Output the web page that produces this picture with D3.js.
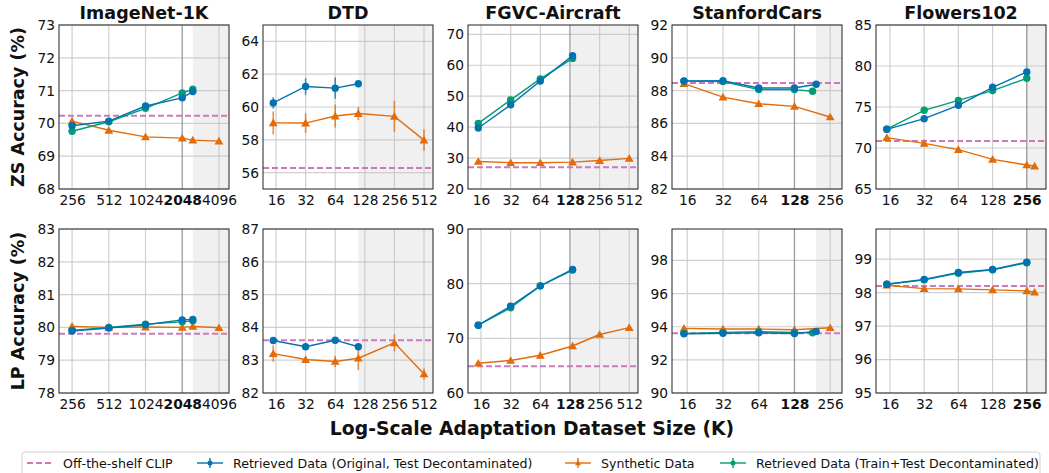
<!DOCTYPE html>
<html>
<head>
<meta charset="utf-8">
<script src="https://cdn.jsdelivr.net/npm/d3@7"></script>
<style>
  body { margin: 0; background: #fff; }
  text { font-family: "DejaVu Sans", sans-serif; fill: #111; }
</style>
</head>
<body>
<svg id="chart" width="1049" height="473"></svg>
<script>
// dataset names and adaptation sizes (K)
const datasets = ["ImageNet-1K", "DTD", "FGVC-Aircraft", "StanfordCars", "Flowers102"];

const retrievedSizes = [[256, 512, 1024, 2048, 2500], [15, 32, 64, 110], [15, 32, 64, 136], [15, 32, 64, 128, 195], [15, 32, 64, 128, 256]];
const trainTestSizes = [[256, 512, 1024, 2048, 2500], [], [15, 32, 64, 136], [15, 32, 64, 128, 182], [15, 32, 64, 128, 256]];
const syntheticSizes = [[256, 512, 1024, 2048, 2500, 4096], [15, 32, 64, 110, 256, 512], [15, 32, 64, 136, 256, 512], [15, 32, 64, 128, 256], [15, 32, 64, 128, 256, 300]];

// x tick labels and the bold one (real dataset size)
const xTicks = [[256, 512, 1024, 2048, 4096], [16, 32, 64, 128, 256, 512], [16, 32, 64, 128, 256, 512], [16, 32, 64, 128, 256], [16, 32, 64, 128, 256]];
const boldTick = [2048, null, 128, 128, 256];
const xDomains = [[200, 4950], [11.8, 632], [11.8, 628], [11.9, 322], [12.05, 378]];
const shadeFrom = [2500, 110, 132, 195, 252];

// zero-shot accuracy
const zsClip = [70.23, 56.28, 27.0, 88.46, 70.85];
const zsRetrieved = [[69.93, 70.07, 70.53, 70.78, 70.97], [60.25, 61.25, 61.15, 61.42], [39.7, 47.2, 54.9, 63.1], [88.59, 88.6, 88.16, 88.16, 88.39], [72.28, 73.58, 75.2, 77.4, 79.27]];
const zsRetrievedErr = [[], [0.35, 0.5, 0.65, 0.08], [], [], []];
const zsTrainTest = [[69.76, 70.05, 70.46, 70.93, 71.04], [], [41.2, 48.8, 55.6, 62.2], [88.58, 88.55, 88.06, 88.06, 87.96], [72.3, 74.6, 75.8, 77.0, 78.5]];
const zsSynthetic = [[70.07, 69.79, 69.59, 69.55, 69.49, 69.46], [59.03, 59.02, 59.45, 59.6, 59.43, 57.98], [28.9, 28.5, 28.5, 28.7, 29.2, 29.9], [88.43, 87.6, 87.2, 87.04, 86.39], [71.26, 70.57, 69.8, 68.62, 67.93, 67.8]];
const zsSyntheticErr = [[], [0.7, 0.6, 0.7, 0.4, 0.95, 0.65], [], [], []];
const zsDomains = [[68, 73], [55, 65], [20, 73], [82, 92], [65, 85]];
const zsTicks = [[68, 69, 70, 71, 72, 73], [56, 58, 60, 62, 64], [20, 30, 40, 50, 60, 70], [82, 84, 86, 88, 90, 92], [65, 70, 75, 80, 85]];

// linear probe accuracy
const lpClip = [79.81, 83.61, 64.9, 93.61, 98.2];
const lpRetrieved = [[79.89, 79.98, 80.08, 80.23, 80.24], [83.6, 83.41, 83.61, 83.41], [72.4, 75.9, 79.6, 82.6], [93.57, 93.61, 93.63, 93.59, 93.72], [98.25, 98.39, 98.6, 98.69, 98.91]];
const lpRetrievedErr = [[], [0.04, 0.04, 0.05, 0.05], [], [], []];
const lpTrainTest = [[79.91, 80.0, 80.1, 80.17, 80.2], [], [72.4, 75.6, 79.6, 82.5], [93.6, 93.66, 93.7, 93.65, 93.63], [98.25, 98.38, 98.58, 98.68, 98.89]];
const lpSynthetic = [[80.03, 80.0, 80.01, 80.0, 80.03, 79.99], [83.2, 83.02, 82.96, 83.06, 83.53, 82.58], [65.45, 65.95, 66.9, 68.6, 70.7, 71.97], [93.9, 93.86, 93.86, 93.82, 93.94], [98.22, 98.12, 98.11, 98.08, 98.05, 98.01]];
const lpSyntheticErr = [[], [0.25, 0.05, 0.17, 0.36, 0.26, 0.17], [], [], []];
const lpDomains = [[78, 83], [82, 87], [60, 90], [90, 99.9], [95, 99.9]];
const lpTicks = [[78, 79, 80, 81, 82, 83], [82, 83, 84, 85, 86, 87], [60, 70, 80, 90], [90, 92, 94, 96, 98], [95, 96, 97, 98, 99]];

const colors = { clip: "#cc78bc", retrieved: "#0173b2", synthetic: "#e36c0a", trainTest: "#029e73" };

// layout
const panelLeft = [59, 263, 468, 672, 876];
const panelW = 170, panelH = 164;
const rowTop = [25, 229];

const svg = d3.select("#chart");

const rows = [
    { clip: zsClip, ret: zsRetrieved, retErr: zsRetrievedErr, tt: zsTrainTest, syn: zsSynthetic, synErr: zsSyntheticErr, dom: zsDomains, ticks: zsTicks, label: "ZS Accuracy (%)" },
    { clip: lpClip, ret: lpRetrieved, retErr: lpRetrievedErr, tt: lpTrainTest, syn: lpSynthetic, synErr: lpSyntheticErr, dom: lpDomains, ticks: lpTicks, label: "LP Accuracy (%)" }
];

const tri = d3.symbol().type(d3.symbolTriangle).size(34);

function drawPanel(c, r) {
    const row = rows[r];
    const g = svg.append("g").attr("transform", `translate(${panelLeft[c]},${rowTop[r]})`);
    const x = d3.scaleLog().base(2).domain(xDomains[c]).range([0, panelW]);
    const y = d3.scaleLinear().domain(row.dom[c]).range([panelH, 0]);

    const clipId = `clip${c}${r}`;
    g.append("clipPath").attr("id", clipId).append("rect").attr("width", panelW).attr("height", panelH);

    // shaded region beyond real size
    g.append("rect")
        .attr("x", x(shadeFrom[c])).attr("y", 0)
        .attr("width", panelW - x(shadeFrom[c])).attr("height", panelH)
        .attr("fill", "#f0f0f0");

    // grid
    g.selectAll(".gy").data(row.ticks[c]).enter().append("line")
        .attr("x1", 0).attr("x2", panelW)
        .attr("y1", d => y(d)).attr("y2", d => y(d))
        .attr("stroke", "#c8c8c8").attr("stroke-width", 1.2).attr("opacity", 0.85);
    g.selectAll(".gx").data(xTicks[c]).enter().append("line")
        .attr("y1", 0).attr("y2", panelH)
        .attr("x1", d => x(d)).attr("x2", d => x(d))
        .attr("stroke", d => d === boldTick[c] ? "#8a8a8a" : "#c8c8c8")
        .attr("stroke-width", d => d === boldTick[c] ? 1.3 : 1.2).attr("opacity", 0.85);

    const plot = g.append("g").attr("clip-path", `url(#${clipId})`);

    // off-the-shelf CLIP baseline
    plot.append("line")
        .attr("x1", 0).attr("x2", panelW)
        .attr("y1", y(row.clip[c])).attr("y2", y(row.clip[c]))
        .attr("stroke", colors.clip).attr("stroke-width", 2).attr("stroke-dasharray", "6,3");

    const line = d3.line().x(d => x(d[0])).y(d => y(d[1]));

    function series(sizes, vals, errs, color, marker) {
        if (!vals.length) return;
        const pts = sizes.map((s, i) => [s, vals[i], errs[i] || 0]);
        plot.append("path").datum(pts).attr("d", line)
            .attr("fill", "none").attr("stroke", color).attr("stroke-width", 1.4);
        plot.selectAll(null).data(pts.filter(p => p[2] > 0)).enter().append("line")
            .attr("x1", d => x(d[0])).attr("x2", d => x(d[0]))
            .attr("y1", d => y(d[1] - d[2])).attr("y2", d => y(d[1] + d[2]))
            .attr("stroke", color).attr("stroke-width", 1.6).attr("opacity", 0.75);
        if (marker === "circle") {
            plot.selectAll(null).data(pts).enter().append("circle")
                .attr("cx", d => x(d[0])).attr("cy", d => y(d[1])).attr("r", 3.7)
                .attr("fill", color);
        } else {
            plot.selectAll(null).data(pts).enter().append("path")
                .attr("d", tri)
                .attr("transform", d => `translate(${x(d[0])},${y(d[1]) + 0.8})`)
                .attr("fill", color);
        }
    }

    series(syntheticSizes[c], row.syn[c], row.synErr[c], colors.synthetic, "tri");
    series(trainTestSizes[c], row.tt[c], [], colors.trainTest, "circle");
    series(retrievedSizes[c], row.ret[c], row.retErr[c], colors.retrieved, "circle");

    // frame
    g.append("rect").attr("width", panelW).attr("height", panelH)
        .attr("fill", "none").attr("stroke", "#222").attr("stroke-width", 1);

    // axes labels
    const xa = g.append("g").attr("transform", `translate(0,${panelH})`)
        .call(d3.axisBottom(x).tickValues(xTicks[c]).tickFormat(d3.format("d")).tickSize(0).tickPadding(6));
    xa.select(".domain").remove();
    xa.selectAll("text").attr("font-size", 13.8).attr("fill", "#111")
        .attr("font-family", "DejaVu Sans")
        .attr("font-weight", d => d === boldTick[c] ? "bold" : "normal");

    const ya = g.append("g")
        .call(d3.axisLeft(y).tickValues(row.ticks[c]).tickFormat(d3.format("d")).tickSize(0).tickPadding(4));
    ya.select(".domain").remove();
    ya.selectAll("text").attr("font-size", 13.8).attr("fill", "#111").attr("font-family", "DejaVu Sans");

    if (r === 0) {
        g.append("text").attr("x", panelW / 2).attr("y", -6)
            .attr("text-anchor", "middle").attr("font-size", 17.5).attr("font-weight", "bold")
            .text(datasets[c]);
    }
}

for (let r = 0; r < 2; r++) {
    for (let c = 0; c < datasets.length; c++) drawPanel(c, r);
    svg.append("text")
        .attr("transform", `translate(24,${rowTop[r] + panelH / 2}) rotate(-90)`)
        .attr("text-anchor", "middle").attr("font-size", 17.5).attr("font-weight", "bold")
        .text(rows[r].label);
}

svg.append("text").attr("x", 532).attr("y", 435)
    .attr("text-anchor", "middle").attr("font-size", 18.8).attr("font-weight", "bold")
    .text("Log-Scale Adaptation Dataset Size (K)");

// legend
const legend = svg.append("g");
legend.append("rect").attr("x", 22).attr("y", 452).attr("width", 1018).attr("height", 40)
    .attr("rx", 3).attr("fill", "#fff").attr("stroke", "#d0d0d0");

const legendItems = [
    { name: "Off-the-shelf CLIP", color: colors.clip, kind: "dash", x: 27 },
    { name: "Retrieved Data (Original, Test Decontaminated)", color: colors.retrieved, kind: "circle", x: 197 },
    { name: "Synthetic Data", color: colors.synthetic, kind: "tri", x: 565 },
    { name: "Retrieved Data (Train+Test Decontaminated)", color: colors.trainTest, kind: "circle", x: 720 }
];
const ly = 463;
legendItems.forEach(it => {
    const h = legend.append("g");
    if (it.kind === "dash") {
        h.append("line").attr("x1", it.x).attr("x2", it.x + 26).attr("y1", ly).attr("y2", ly)
            .attr("stroke", it.color).attr("stroke-width", 2).attr("stroke-dasharray", "6,3");
    } else {
        h.append("line").attr("x1", it.x).attr("x2", it.x + 26).attr("y1", ly).attr("y2", ly)
            .attr("stroke", it.color).attr("stroke-width", 1.4);
        h.append("line").attr("x1", it.x + 13).attr("x2", it.x + 13).attr("y1", ly - 5).attr("y2", ly + 5)
            .attr("stroke", it.color).attr("stroke-width", 1.4);
        if (it.kind === "circle") {
            h.append("circle").attr("cx", it.x + 13).attr("cy", ly).attr("r", 2.5).attr("fill", it.color);
        } else {
            h.append("path").attr("d", d3.symbol().type(d3.symbolTriangle).size(16))
                .attr("transform", `translate(${it.x + 13},${ly + 0.5})`).attr("fill", it.color);
        }
    }
    h.append("text").attr("x", it.x + 36).attr("y", ly + 4.5)
        .attr("font-size", 12.6).text(it.name);
});
</script>
</body>
</html>
